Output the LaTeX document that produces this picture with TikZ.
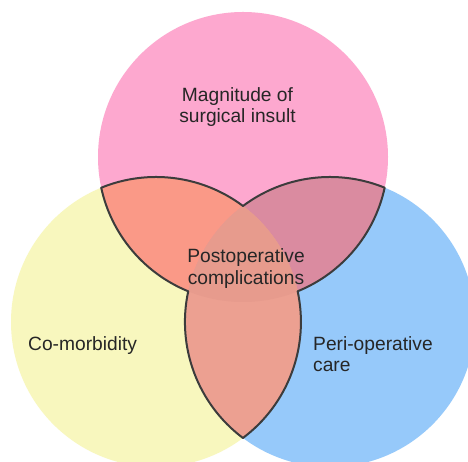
\documentclass[tikz,border=0pt]{standalone}
\usepackage{fontspec}
\setmainfont{Liberation Sans}
\definecolor{pinkc}{RGB}{253,168,207}
\definecolor{yellowc}{RGB}{248,247,190}
\definecolor{bluec}{RGB}{150,201,250}
\definecolor{pyc}{RGB}{250,153,135}
\definecolor{pbc}{RGB}{218,139,160}
\definecolor{ybc}{RGB}{236,160,145}
\definecolor{pybc}{RGB}{231,155,141}
\definecolor{edgec}{RGB}{60,60,60}
\definecolor{textc}{RGB}{38,38,38}
\begin{document}
\begin{tikzpicture}[x=1pt,y=1pt,
  lbl/.style={inner sep=0pt,text=textc,font=\fontsize{19.2}{21.5}\selectfont},
  outline/.style={draw=edgec,line width=2pt,line join=round}]
\useasboundingbox (0,0) rectangle (468,462);
\fill[white] (0,0) rectangle (468,462);
\coordinate (P) at (243,305);
\coordinate (Y) at (156,140);
\coordinate (B) at (330,140);
\def\R{145pt}
% circles
\fill[pinkc] (P) circle[radius=\R];
\fill[yellowc] (Y) circle[radius=\R];
\fill[bluec] (B) circle[radius=\R];
% pairwise intersections
\begin{scope}\clip (P) circle[radius=\R]; \fill[pyc] (Y) circle[radius=\R];\end{scope}
\begin{scope}\clip (P) circle[radius=\R]; \fill[pbc] (B) circle[radius=\R];\end{scope}
\begin{scope}\clip (Y) circle[radius=\R]; \fill[ybc] (B) circle[radius=\R];\end{scope}
% triple
\begin{scope}\clip (P) circle[radius=\R]; \clip (Y) circle[radius=\R]; \fill[pybc] (B) circle[radius=\R];\end{scope}
% outline of the union of pairwise overlaps
\coordinate (A1) at (101.3,274.3);
\draw[outline] (A1)
  arc[start angle=112.16, end angle=53.13, radius=\R]
  arc[start angle=126.87, end angle=67.84, radius=\R]
  arc[start angle=-12.22, end angle=-67.84, radius=\R]
  arc[start angle=12.22, end angle=-53.13, radius=\R]
  arc[start angle=233.13, end angle=167.78, radius=\R]
  arc[start angle=247.84, end angle=192.22, radius=\R] -- cycle;
% labels
\node[lbl,align=center] (mag) at (237.5,355) {Magnitude of\\surgical insult};
\node[lbl,align=center] (post) at (246,193.5) {Postoperative\\complications};
\node[lbl,anchor=west] (como) at (28,116) {Co-morbidity};
\node[lbl,anchor=west,align=left] (peri) at (313,108) {Peri-operative\\care};
\end{tikzpicture}
\end{document}
